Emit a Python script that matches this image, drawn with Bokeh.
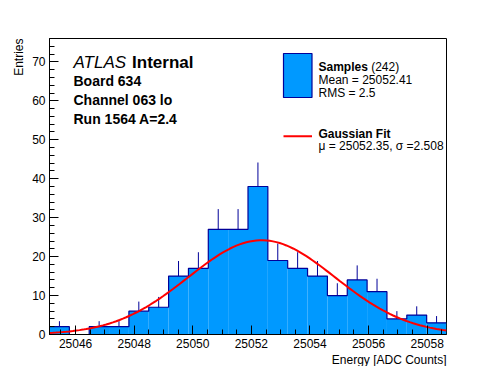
import numpy as np
from bokeh.plotting import figure
from bokeh.models import Label, SingleIntervalTicker, Range1d, BoxAnnotation, Title
from bokeh.embed import file_html
from bokeh.resources import INLINE

# ---------------- data ----------------
counts = [2, 0, 2, 2, 6, 7, 15, 17, 27, 27, 38, 19, 17, 15, 10, 14, 11, 4, 5, 3]
x_min = 25045.11
x_max = 25058.66
y_max = 76
n_entries = 242
sample_mean = 25052.41
sample_rms = 2.5
fit_mu = 25052.35
fit_sigma = 2.508
fit_peak = 24.2
x_tick_step = 2
y_tick_step = 10
x_title = "Energy [ADC Counts]"
y_title = "Entries"

# ---------------- styles ----------------
FONT = "Liberation Sans"
FILL = "#0099FF"
NAVY = "#000099"
RED = "#FF0000"

FW, FH = 397, 296          # frame size
BL, BT = 49, 38            # left / top borders
BR, BB = 34, 30
FL, FR = BL, BL + FW
FT, FB = BT, BT + FH


def dx(px):
    return x_min + (px - FL) / (FR - FL) * (x_max - x_min)


def dy(py):
    return (FB - py) / (FB - FT) * y_max


p = figure(frame_width=FW, frame_height=FH, output_backend="svg", toolbar_location=None,
           x_range=Range1d(x_min, x_max), y_range=Range1d(0, y_max),
           min_border_left=BL, min_border_right=BR, min_border_top=BT, min_border_bottom=BB)
p.background_fill_color = "white"
p.border_fill_color = "white"
p.outline_line_color = "black"
p.outline_line_width = 1
p.outline_line_alpha = 1
p.xgrid.visible = False
p.ygrid.visible = False

for ax in (p.xaxis[0], p.yaxis[0]):
    ax.axis_line_color = "black"
    ax.major_tick_line_color = "black"
    ax.minor_tick_line_color = "black"
    ax.major_tick_in = 9
    ax.major_tick_out = 0
    ax.minor_tick_in = 5
    ax.minor_tick_out = 0
    ax.major_label_text_font = FONT
    ax.major_label_text_font_size = "12px"
    ax.major_label_text_color = "black"
    ax.major_label_standoff = 4
p.xaxis[0].ticker = SingleIntervalTicker(interval=x_tick_step, num_minor_ticks=4)
p.yaxis[0].ticker = SingleIntervalTicker(interval=y_tick_step, num_minor_ticks=5)

# axis titles (ROOT style: at the far end of each axis)
p.add_layout(Title(text=x_title, align="right", text_font=FONT, text_font_size="12px",
                   text_font_style="normal", text_color="black", standoff=0), "below")
p.add_layout(Title(text=y_title, align="right", text_font=FONT, text_font_size="12px",
                   text_font_style="normal", text_color="black", standoff=8), "left")

# ---------------- histogram ----------------
edges = np.linspace(x_min, x_max, len(counts) + 1)
centers = 0.5 * (edges[:-1] + edges[1:])
cnt = np.array(counts, dtype=float)
err = np.sqrt(cnt)
nz = cnt > 0
p.segment(x0=centers[nz], y0=(cnt - err)[nz], x1=centers[nz], y1=(cnt + err)[nz],
          line_color=NAVY, line_width=1)
p.quad(left=edges[:-1], right=edges[1:], bottom=0, top=cnt,
       fill_color=FILL, line_color=None)
p.step(x=edges, y=np.append(cnt, cnt[-1]), mode="after", line_color=NAVY, line_width=1.2)

# ---------------- gaussian fit ----------------
gx = np.linspace(x_min, x_max, 120)
gy = fit_peak * np.exp(-0.5 * ((gx - fit_mu) / fit_sigma) ** 2)
p.line(gx, gy, line_color=RED, line_width=2)


def lab(text, px, py, size="12px", style="normal", align="left"):
    p.add_layout(Label(x=dx(px), y=dy(py), text=text, text_font=FONT,
                       text_font_size=size, text_font_style=style,
                       text_align=align, text_baseline="alphabetic",
                       text_color="black"))


# ---------------- ATLAS labels ----------------
lab("ATLAS", 73, 62, size="17px", style="italic")
lab("Internal", 73 + 3.446 * 17, 62, size="17px", style="bold")
lab("Board 634", 73, 80.5, size="14px", style="bold")
lab("Channel 063 lo", 73, 99.5, size="14px", style="bold")
lab("Run 1564 A=2.4", 73, 118.5, size="14px", style="bold")

# ---------------- legend ----------------
p.add_layout(BoxAnnotation(left=dx(283), right=dx(311.5), top=dy(53), bottom=dy(97),
                           fill_color=FILL, fill_alpha=1, line_color=NAVY, line_width=1.2,
                           line_alpha=1))
lab("Samples", 318, 66, style="bold")
lab(f"({n_entries})", 318 + 4.113 * 12 + 3.3, 66)
lab(f"Mean = {sample_mean:.2f}", 318, 79.5)
lab(f"RMS = {sample_rms}", 318, 92)
p.line([dx(283), dx(311.5)], [dy(135.7), dy(135.7)], line_color=RED, line_width=2)
lab("Gaussian Fit", 318, 133, style="bold")
lab(f"\u03bc = {fit_mu:.2f}, \u03c3 ={fit_sigma:.3f}", 318, 145.5)

open("out.html", "w").write(file_html(p, INLINE))
